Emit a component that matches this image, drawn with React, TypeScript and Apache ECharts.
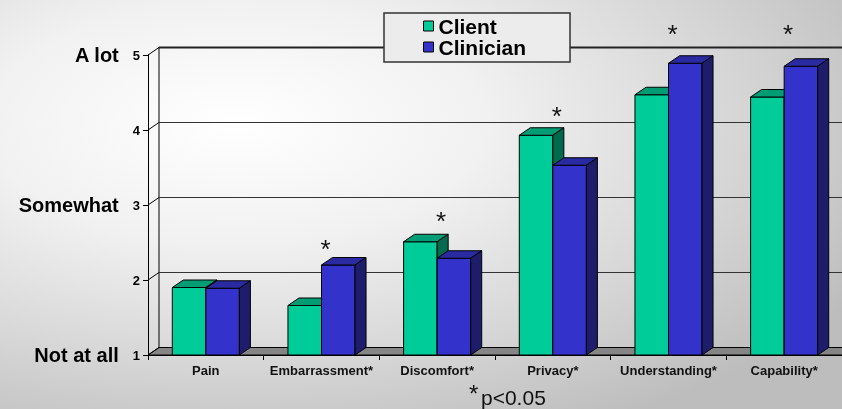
import React, { useEffect, useRef } from 'react';
import * as echarts from 'echarts';

const categories = ['Pain', 'Embarrassment*', 'Discomfort*', 'Privacy*', 'Understanding*', 'Capability*'];
const clientValues = [1.9, 1.66, 2.51, 3.93, 4.47, 4.44];
const clinicianValues = [1.89, 2.2, 2.29, 3.53, 4.89, 4.85];
const starLevels: (number | null)[] = [null, 2.49, 2.87, 4.27, 5.36, 5.36];
const yTicks = [1, 2, 3, 4, 5];
const levelWords: Record<number, string> = { 1: 'Not at all', 3: 'Somewhat', 5: 'A lot' };
const seriesNames = ['Client', 'Clinician'];
const noteStar = '*';
const noteText = 'p<0.05';

const FONT = '"Liberation Sans", Arial, Helvetica, sans-serif';
const DX = 11;
const DY = 7.5;
const BAR_FRAC = 0.29;

const clientColors = { front: '#00CC99', top: '#009C74', side: '#006A4E' };
const clinicianColors = { front: '#3333CC', top: '#2A2AA2', side: '#1D1D6C' };

function makeBarRender(side: number, colors: { front: string; top: string; side: string }) {
  return (params: any, api: any) => {
    const idx = api.value(0);
    const v = api.value(1);
    const base = api.coord([idx, yTicks[0]]);
    const top = api.coord([idx, v]);
    const bw = api.size([1, 0])[0] * BAR_FRAC;
    const x0 = side === 0 ? base[0] - bw : base[0];
    const x1 = x0 + bw;
    const yb = base[1];
    const yt = top[1];
    const st = { stroke: '#000', lineWidth: 1 };
    return {
      type: 'group',
      children: [
        { type: 'rect', shape: { x: x0, y: yt, width: bw, height: yb - yt }, style: { fill: colors.front, ...st } },
        {
          type: 'polygon',
          shape: { points: [[x0, yt], [x1, yt], [x1 + DX, yt - DY], [x0 + DX, yt - DY]] },
          style: { fill: colors.top, ...st },
        },
        {
          type: 'polygon',
          shape: { points: [[x1, yt], [x1 + DX, yt - DY], [x1 + DX, yb - DY], [x1, yb]] },
          style: { fill: colors.side, ...st },
        },
      ],
    };
  };
}

function wallRender(params: any, api: any) {
  const cs = params.coordSys;
  const v = api.value(1);
  const y = api.coord([0, v])[1];
  const x0 = cs.x;
  const x1 = cs.x + cs.width;
  const isTop = v === yTicks[yTicks.length - 1];
  const children: any[] = [];
  if (v === yTicks[0]) {
    const yTop = api.coord([0, yTicks[yTicks.length - 1]])[1];
    children.push({
      type: 'polygon',
      shape: { points: [[x0, y], [x1, y], [x1 + DX, y - DY], [x0 + DX, y - DY]] },
      style: { fill: '#858585', stroke: '#000', lineWidth: 1 },
    });
    children.push({
      type: 'line',
      shape: { x1: x0 + DX, y1: yTop - DY, x2: x0 + DX, y2: y - DY },
      style: { stroke: '#000', lineWidth: 1 },
    });
  } else {
    children.push({
      type: 'line',
      shape: { x1: x0 + DX, y1: y - DY, x2: x1 + DX, y2: y - DY },
      style: { stroke: isTop ? '#222' : '#333', lineWidth: isTop ? 2 : 1 },
    });
  }
  children.push({
    type: 'line',
    shape: { x1: x0, y1: y, x2: x0 + DX, y2: y - DY },
    style: { stroke: '#000', lineWidth: 1 },
  });
  return { type: 'group', children };
}

function starRender(params: any, api: any) {
  const p = api.coord([api.value(0), api.value(1)]);
  const fs = 26;
  return {
    type: 'text',
    x: p[0] + 4,
    y: p[1] + fs * 0.23,
    style: {
      text: '*',
      fill: '#111',
      font: `normal ${fs}px ${FONT}`,
      textAlign: 'center',
      textVerticalAlign: 'middle',
    },
  };
}

export default function App() {
  const ref = useRef<HTMLDivElement>(null);
  useEffect(() => {
    if (!ref.current) return;
    const chart = echarts.init(ref.current, undefined, { renderer: 'svg' });
    const option: any = {
      animation: false,
      backgroundColor: new echarts.graphic.RadialGradient(0.28, 0.3, 0.85, [
        { offset: 0, color: '#ffffff' },
        { offset: 0.35, color: '#f1f1f1' },
        { offset: 0.7, color: '#d6d6d6' },
        { offset: 1, color: '#bdbdbd' },
      ]),
      textStyle: { fontFamily: FONT },
      grid: { left: 148, top: 55, width: 700, height: 300, containLabel: false },
      legend: {
        data: seriesNames,
        orient: 'vertical',
        left: 384,
        top: 13,
        icon: 'rect',
        itemWidth: 10,
        itemHeight: 10,
        itemGap: 0,
        padding: [2.5, 44, 4.5, 39],
        backgroundColor: '#ececec',
        borderColor: '#333',
        borderWidth: 1.5,
        borderRadius: 0,
        itemStyle: { borderColor: '#000', borderWidth: 1 },
        textStyle: { fontFamily: FONT, fontSize: 21, fontWeight: 'bold', color: '#000', lineHeight: 19 },
      },
      xAxis: {
        type: 'category',
        data: categories,
        boundaryGap: true,
        axisLine: { show: true, lineStyle: { color: '#000', width: 1 } },
        axisTick: { show: true, length: 5, lineStyle: { color: '#000' } },
        axisLabel: { fontFamily: FONT, fontSize: 13, fontWeight: 'bold', color: '#111', margin: 9, interval: 0 },
        splitLine: { show: false },
        z: 5,
      },
      yAxis: {
        type: 'value',
        min: 1,
        max: 5,
        interval: 1,
        axisLine: { show: true, lineStyle: { color: '#000', width: 1 } },
        axisTick: { show: true, length: 5, lineStyle: { color: '#000' } },
        splitLine: { show: false },
        axisLabel: {
          margin: 8,
          formatter: (v: number) => (levelWords[v] ? `{w|${levelWords[v]}}{n|${v}}` : `{n|${v}}`),
          rich: {
            w: { fontFamily: FONT, fontSize: 20, fontWeight: 'bold', color: '#000', padding: [0, 14, 0, 0] },
            n: { fontFamily: FONT, fontSize: 13, fontWeight: 'bold', color: '#000' },
          },
        },
      },
      series: [
        {
          type: 'custom',
          name: 'walls',
          renderItem: wallRender,
          data: yTicks.map((v) => [0, v]),
          encode: { x: 0, y: 1 },
          clip: false,
          silent: true,
          z: 1,
        },
        {
          type: 'custom',
          name: seriesNames[0],
          renderItem: makeBarRender(0, clientColors),
          data: clientValues.map((v, i) => [i, v]),
          encode: { x: 0, y: 1 },
          itemStyle: { color: clientColors.front, borderColor: '#000', borderWidth: 1 },
          clip: false,
          z: 3,
        },
        {
          type: 'custom',
          name: seriesNames[1],
          renderItem: makeBarRender(1, clinicianColors),
          data: clinicianValues.map((v, i) => [i, v]),
          encode: { x: 0, y: 1 },
          itemStyle: { color: clinicianColors.front, borderColor: '#000', borderWidth: 1 },
          clip: false,
          z: 4,
        },
        {
          type: 'custom',
          name: 'stars',
          renderItem: starRender,
          data: starLevels
            .map((v, i) => (v == null ? null : [i, v]))
            .filter((d) => d !== null),
          encode: { x: 0, y: 1 },
          clip: false,
          silent: true,
          z: 5,
        },
      ],
      graphic: [
        {
          type: 'text',
          left: 469,
          top: 381,
          style: { text: noteStar, font: `normal 24px ${FONT}`, fill: '#111' },
        },
        {
          type: 'text',
          left: 481,
          top: 387,
          style: { text: noteText, font: `normal 21px ${FONT}`, fill: '#111' },
        },
      ],
    };
    chart.setOption(option);
    return () => chart.dispose();
  }, []);
  return (
    <div
      ref={ref}
      style={{ position: 'fixed', left: 0, top: 0, width: 842, height: 409, overflow: 'hidden' }}
    />
  );
}
